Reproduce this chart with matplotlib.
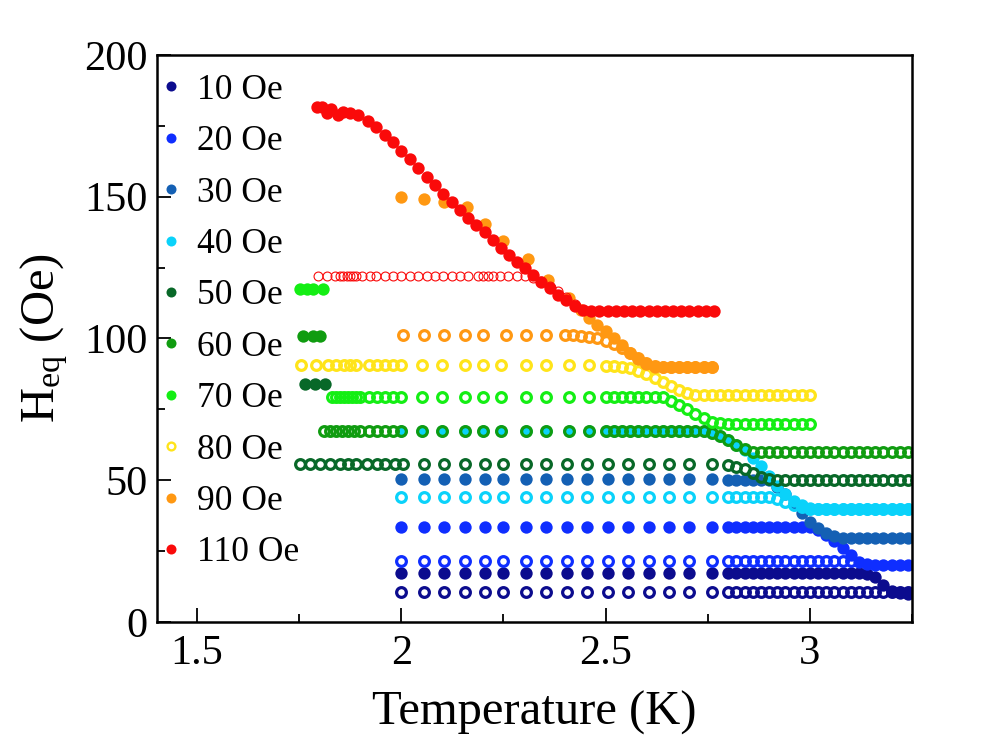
import matplotlib
matplotlib.use('Agg')
import matplotlib.pyplot as plt
from matplotlib.lines import Line2D
from matplotlib.ticker import MultipleLocator, FormatStrFormatter

plt.rcParams['font.family'] = ['Liberation Serif', 'DejaVu Serif']
plt.rcParams['mathtext.fontset'] = 'custom'
plt.rcParams['mathtext.rm'] = 'Liberation Serif'

# shared temperature grids (K)
t_sp = [2.00, 2.055, 2.105, 2.155, 2.205, 2.25, 2.305, 2.355, 2.405, 2.455,
        2.505, 2.555, 2.605, 2.655, 2.705, 2.76]
t_sp40 = [2.00, 2.05, 2.10, 2.155, 2.20, 2.245, 2.305, 2.355, 2.41, 2.46]
t_mid = [2.50, 2.52, 2.54, 2.56, 2.58, 2.60, 2.62, 2.64, 2.66, 2.68, 2.70,
         2.72, 2.74, 2.76, 2.78]
t_hi = [2.80, 2.82, 2.84, 2.86, 2.88, 2.90, 2.92, 2.94, 2.96, 2.98, 3.00,
        3.02, 3.04, 3.06, 3.08, 3.10, 3.12, 3.14, 3.16, 3.18, 3.20, 3.22,
        3.24, 3.26]

# 10 Oe
t10_open = t_sp + t_hi
h10_open = [10.6, 10.6, 10.6, 10.6, 10.6, 10.6, 10.6, 10.6, 10.6, 10.6,
            10.6, 10.6, 10.6, 10.6, 10.6, 10.6, 10.6, 10.6, 10.6, 10.6,
            10.6, 10.6, 10.6, 10.6, 10.6, 10.6, 10.6, 10.6, 10.6, 10.6,
            10.6, 10.6, 10.6, 10.6, 10.6, 10.6, 10.6, 10.6, 10.6, 10.6]
t10_fill = t_sp + t_hi
h10_fill = [17.4, 17.4, 17.4, 17.4, 17.4, 17.2, 17.4, 17.4, 17.4, 17.4,
            17.4, 17.4, 17.4, 17.4, 17.4, 17.4,
            17.4, 17.4, 17.4, 17.4, 17.4, 17.4, 17.4, 17.4, 17.4, 17.4,
            17.4, 17.4, 17.4, 17.4, 17.3, 17.3, 17.2, 16.9, 15.8, 13.2,
            10.8, 10.2, 10.0, 10.0]

# 20 Oe
t20_open = t_sp + t_hi[:16]
h20_open = [21.4, 21.4, 21.4, 21.4, 21.4, 21.4, 21.4, 21.4, 21.4, 21.4,
            21.4, 21.4, 21.4, 21.4, 21.4, 21.4,
            21.4, 21.4, 21.4, 21.4, 21.4, 21.4, 21.4, 21.4, 21.4, 21.4,
            21.4, 21.4, 21.4, 21.4, 21.4, 21.4]
t20_fill = t_sp + t_hi
h20_fill = [33.5, 33.5, 33.5, 33.5, 33.5, 33.5, 33.5, 33.5, 33.5, 33.5,
            33.5, 33.5, 33.5, 33.5, 33.5, 33.5,
            33.5, 33.5, 33.5, 33.5, 33.5, 33.5, 33.5, 33.5, 33.5, 33.5,
            33.5, 32.5, 30.6, 28.5, 26.0, 23.6, 21.2, 20.3, 20.1, 20.1,
            20.1, 20.1, 20.1, 20.1]

# 30 Oe
t30_fill = t_sp + t_hi
h30_fill = [50.3, 50.3, 50.3, 50.3, 50.3, 50.3, 50.3, 50.3, 50.3, 50.3,
            50.3, 50.3, 50.3, 50.3, 50.3, 50.3,
            50.2, 50.2, 50.2, 50.2, 50.2, 50.2, 47.6, 45.0, 41.6, 38.4,
            35.3, 33.1, 31.4, 30.2, 29.7, 29.7, 29.7, 29.7, 29.7, 29.7,
            29.7, 29.7, 29.7, 29.7]

# 40 Oe
t40_open = t_sp + t_hi
h40_open = [44.1, 44.1, 44.1, 44.1, 44.1, 44.1, 44.1, 44.1, 44.1, 44.1,
            44.1, 44.1, 44.1, 44.1, 44.1, 44.1,
            44.1, 44.1, 44.1, 44.1, 44.1, 44.1, 43.4, 42.4, 41.3, 40.5,
            40.0, 40.0, 40.0, 40.0, 40.0, 40.0, 40.0, 40.0, 40.0, 40.0,
            40.0, 40.0, 40.0, 40.0]
t40_fill = t_sp40 + t_mid + t_hi
h40_fill = [67.4, 67.4, 67.4, 67.4, 67.4, 67.4, 67.4, 67.4, 67.4, 67.4,
            67.4, 67.4, 67.4, 67.4, 67.4, 67.4, 67.4, 67.4, 67.4, 67.4,
            67.4, 67.4, 67.4, 66.6, 65.7,
            64.3, 62.6, 60.6, 58.0, 55.0, 51.6, 47.8, 45.0, 42.8, 41.2,
            40.3, 40.0, 40.0, 40.0, 40.0, 40.0, 40.0, 40.0, 40.0, 40.0,
            40.0, 40.0, 40.0, 40.0]

# 50 Oe
t50_open = ([1.752, 1.776, 1.80, 1.825, 1.85, 1.87, 1.89, 1.915, 1.94, 1.96,
             1.984, 2.004] + t_sp[1:] + t_hi)
h50_open = [55.8, 55.8, 55.8, 55.8, 55.8, 55.8, 55.8, 55.8, 55.8, 55.8,
            55.8, 55.8, 55.8, 55.8, 55.8, 55.8, 55.8, 55.8, 55.8, 55.8,
            55.8, 55.8, 55.8, 55.8, 55.8, 55.8, 55.8,
            55.5, 54.8, 53.8, 52.6, 51.3, 50.4, 50.1, 50.1, 50.1, 50.1,
            50.1, 50.1, 50.1, 50.1, 50.1, 50.1, 50.1, 50.1, 50.1, 50.1,
            50.1, 50.1, 50.1, 50.1]
t50_fill = [1.764, 1.789, 1.813]
h50_fill = [83.9, 83.9, 83.9]

# 60 Oe
t60_open = ([1.81, 1.825, 1.84, 1.855, 1.87, 1.885, 1.90, 1.92, 1.94, 1.96,
             1.98, 2.00] + t_sp40[1:] + t_mid + t_hi)
h60_open = [67.5, 67.5, 67.5, 67.5, 67.5, 67.5, 67.5, 67.5, 67.5, 67.5,
            67.5, 67.5, 67.5, 67.5, 67.5, 67.5, 67.5, 67.5, 67.5, 67.5,
            67.5, 67.5, 67.5, 67.5, 67.5, 67.5, 67.5, 67.5, 67.5, 67.5,
            67.5, 67.5, 67.5, 67.5, 66.6, 65.6,
            64.2, 62.5, 60.9, 60.1, 59.8, 59.8, 59.8, 59.8, 59.8, 59.8,
            59.8, 59.8, 59.8, 59.8, 59.8, 59.8, 59.8, 59.8, 59.8, 59.8,
            59.8, 59.8, 59.8, 59.8]
t60_fill = [1.759, 1.784, 1.801]
h60_fill = [100.9, 100.9, 100.9]

# 70 Oe
t70_open = ([1.83, 1.84, 1.85, 1.86, 1.87, 1.88, 1.89, 1.90, 1.92, 1.94,
             1.96, 1.98, 2.00] + t_sp40[1:] + t_mid + t_hi[:11])
h70_open = [79.4, 79.4, 79.4, 79.4, 79.4, 79.4, 79.4, 79.4, 79.4, 79.4,
            79.4, 79.4, 79.4, 79.4, 79.4, 79.4, 79.4, 79.4, 79.4, 79.4,
            79.4, 79.4,
            79.4, 79.4, 79.4, 79.4, 79.4, 79.4, 79.4, 79.4, 77.8, 76.4,
            75.0, 73.5, 71.8, 70.6, 70.1,
            70.0, 70.0, 70.0, 70.0, 70.0, 70.0, 70.0, 70.0, 70.0, 70.0,
            70.0]
t70_fill = [1.752, 1.769, 1.784, 1.808]
h70_fill = [117.6, 117.6, 117.6, 117.6]

# 80 Oe
t80_open = ([1.755, 1.79, 1.82, 1.84, 1.86, 1.875, 1.89, 1.92, 1.94, 1.96,
             1.98, 2.00] + t_sp40[1:] + t_mid + t_hi[:11])
h80_open = [90.5, 90.5, 90.5, 90.5, 90.5, 90.5, 90.5, 90.5, 90.5, 90.5,
            90.5, 90.5, 90.5, 90.5, 90.5, 90.5, 90.5, 90.5, 90.5, 90.5,
            90.5,
            90.4, 90.3, 90.1, 89.7, 88.6, 87.4, 86.2, 84.8, 83.3, 81.8,
            80.6, 80.1, 79.9, 79.9, 79.9,
            79.9, 79.9, 79.9, 79.9, 79.9, 79.9, 79.9, 79.9, 79.9, 79.9,
            79.9]

# 90 Oe
t90_open = [2.005, 2.055, 2.105, 2.155, 2.20, 2.255, 2.305, 2.355,
            2.40, 2.42, 2.44, 2.46, 2.48, 2.50, 2.52, 2.54, 2.56, 2.58,
            2.60, 2.62, 2.64, 2.66, 2.68, 2.70, 2.72, 2.74, 2.76]
h90_open = [101.4, 101.4, 101.4, 101.4, 101.4, 101.4, 101.4, 101.4,
            101.4, 101.3, 101.0, 100.6, 100.0, 99.2, 98.2, 96.8, 95.0, 93.0,
            91.3, 90.2, 89.8, 89.8, 89.8, 89.8, 89.8, 89.8, 89.8]
t90_fill = [2.00, 2.055, 2.105, 2.16, 2.205, 2.25, 2.31, 2.36, 2.41, 2.44,
            2.46, 2.48, 2.50, 2.52, 2.54, 2.56, 2.58, 2.60, 2.62, 2.64,
            2.66, 2.68, 2.70, 2.72, 2.74, 2.76]
h90_fill = [150.0, 149.2, 148.0, 146.2, 140.3, 134.5, 128.0, 120.6, 114.2,
            110.0, 107.1, 104.8, 102.5, 100.2, 97.6, 95.0, 92.9, 91.0, 90.1,
            89.8, 89.8, 89.8, 89.8, 89.8, 89.8, 89.8]

# 110 Oe
t110_open = [1.797, 1.817, 1.837, 1.850, 1.858, 1.866, 1.874, 1.882, 1.890,
             1.903, 1.923, 1.939, 1.960, 1.980, 2.000, 2.021, 2.041, 2.062,
             2.082, 2.102, 2.123, 2.143, 2.163, 2.188, 2.200, 2.212, 2.224,
             2.241, 2.261, 2.282, 2.302, 2.322, 2.343, 2.363, 2.383, 2.404,
             2.424]
h110_open = [122.0, 122.0, 122.0, 122.0, 122.0, 122.0, 122.0, 122.0, 122.0,
             122.0, 122.0, 122.0, 122.0, 122.0, 122.0, 122.0, 122.0, 122.0,
             122.0, 122.0, 122.0, 122.0, 122.0, 122.0, 122.0, 122.0, 122.0,
             122.0, 122.0, 122.0, 122.0, 121.3, 120.2, 118.6, 116.7, 114.5,
             112.3]
t110_fill = [1.793, 1.805, 1.817, 1.829, 1.846, 1.858, 1.874, 1.894, 1.919,
             1.939, 1.960, 1.980, 2.000, 2.021, 2.041, 2.062, 2.082, 2.102,
             2.123, 2.143, 2.163, 2.184, 2.204, 2.225, 2.243, 2.264, 2.283,
             2.302, 2.322, 2.343, 2.363, 2.383, 2.404, 2.424, 2.445,
             2.465, 2.485, 2.505, 2.525, 2.545, 2.565, 2.585, 2.605, 2.625,
             2.645, 2.665, 2.685, 2.705, 2.725, 2.745, 2.765]
h110_fill = [181.5, 181.5, 179.7, 180.9, 178.8, 180.0, 179.4, 178.8, 176.7,
             174.5, 171.8, 169.4, 166.2, 163.2, 160.0, 157.1, 154.1, 151.0,
             148.3, 145.3, 142.4, 140.0, 137.5, 134.7, 131.8, 129.5, 127.1,
             124.8, 122.4, 120.0, 117.7, 115.3, 113.6, 111.5, 110.0,
             109.7, 109.7, 109.7, 109.7, 109.7, 109.7, 109.7, 109.7, 109.7,
             109.7, 109.7, 109.7, 109.7, 109.7, 109.7, 109.7]

labels = ['10 Oe', '20 Oe', '30 Oe', '40 Oe', '50 Oe', '60 Oe', '70 Oe',
          '80 Oe', '90 Oe', '110 Oe']
colors = ['#0c0c8e', '#0f2eff', '#1460b4', '#0ad2fa', '#086828', '#109c10',
          '#14ee14', '#ffe41a', '#ff9812', '#fa0a0a']

# (open T, open H, filled T, filled H) per field, None where absent
series = [
    (t10_open, h10_open, t10_fill, h10_fill),
    (t20_open, h20_open, t20_fill, h20_fill),
    (None, None, t30_fill, h30_fill),
    (t40_open, h40_open, t40_fill, h40_fill),
    (t50_open, h50_open, t50_fill, h50_fill),
    (t60_open, h60_open, t60_fill, h60_fill),
    (t70_open, h70_open, t70_fill, h70_fill),
    (t80_open, h80_open, None, None),
    (t90_open, h90_open, t90_fill, h90_fill),
    (t110_open, h110_open, t110_fill, h110_fill),
]

fig = plt.figure(figsize=(10.05, 7.53), dpi=100)
ax = fig.add_axes([0.1562, 0.174, 0.7513, 0.753])

for i in range(len(series)):
    to, ho, tf, hf = series[i]
    c = colors[i]
    if to is not None:
        if labels[i] == '110 Oe':
            ax.plot(to, ho, ls='none', marker='o', mfc='none', mec=c,
                    ms=6.4, mew=0.8)
        else:
            ax.plot(to, ho, ls='none', marker='o', mfc='none', mec=c,
                    ms=7.0, mew=2.3)
    if tf is not None:
        ax.plot(tf, hf, ls='none', marker='o', mfc=c, mec='none', ms=8.9)

ax.set_xlim(1.402, 3.25)
ax.set_ylim(0, 200)
ax.xaxis.set_major_locator(MultipleLocator(0.5))
ax.xaxis.set_minor_locator(MultipleLocator(0.25))
ax.yaxis.set_major_locator(MultipleLocator(50))
ax.yaxis.set_minor_locator(MultipleLocator(25))
ax.xaxis.set_major_formatter(FormatStrFormatter('%g'))
ax.tick_params(which='both', direction='in', top=False, right=False,
               width=1.3, labelsize=30.5)
ax.tick_params(axis='x', which='major', length=10, pad=9)
ax.tick_params(axis='y', which='major', length=10, pad=7)
ax.tick_params(which='minor', length=6)
for sp in ax.spines.values():
    sp.set_linewidth(1.8)

ax.set_xlabel('Temperature (K)', fontsize=35, labelpad=13)
ax.set_ylabel(r'$\mathregular{H_{eq}}$ (Oe)', fontsize=35, labelpad=10)

handles = []
for i, lab in enumerate(labels):
    if lab == '80 Oe':
        h = Line2D([], [], ls='none', marker='o', mfc='none', mec=colors[i],
                   ms=5.6, mew=1.7)
    else:
        h = Line2D([], [], ls='none', marker='o', mfc=colors[i], mec='none',
                   ms=7.2)
    handles.append(h)
ax.legend(handles, labels, loc='upper left', bbox_to_anchor=(0.0042, 0.967),
          frameon=False, fontsize=25.5, handlelength=0.6, handletextpad=0.45,
          labelspacing=0.52, borderpad=0, borderaxespad=0)

fig.savefig('out.png', dpi=100)
